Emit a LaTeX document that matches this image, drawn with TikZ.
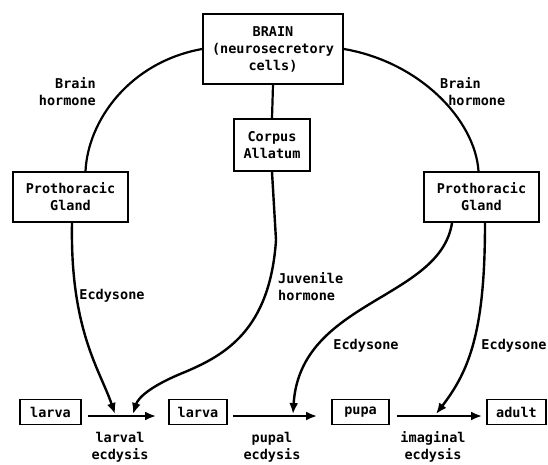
\documentclass[tikz,border=0pt]{standalone}
\usepackage{fontspec}
\setmonofont{DejaVu Sans Mono}
\usetikzlibrary{arrows.meta,positioning}
\tikzset{
  box/.style={draw,line width=1.8pt,align=center,inner sep=0pt},
  lab/.style={align=center,inner sep=0pt},
  link/.style={line width=2.2pt},
  flow/.style={line width=2.4pt,-{Latex[length=11pt,width=9pt]}},
}

\begin{document}
\begin{tikzpicture}[x=1pt,y=-1pt,font=\fontsize{13.5}{17}\selectfont\ttfamily\bfseries]
\useasboundingbox (0,0) rectangle (548,464);
\node[box,minimum width=140pt,minimum height=70pt] (brain) at (273,49) {BRAIN\\(neurosecretory\\cells)};
\node[box,minimum width=76pt,minimum height=52pt] (corpus) at (272,145) {Corpus\\Allatum};
\node[box,minimum width=115pt,minimum height=50pt] (pgl) at (70.5,197) {Prothoracic\\Gland};
\node[box,minimum width=115pt,minimum height=50pt] (pgr) at (481.5,197) {Prothoracic\\Gland};
\node[box,minimum width=61pt,minimum height=25pt] (l1) at (50.5,412) {larva};
\node[box,minimum width=58pt,minimum height=25pt] (l2) at (198,412) {larva};
\node[box,minimum width=57pt,minimum height=25pt] (pupa) at (360.5,412) {pupa};
\node[box,minimum width=59pt,minimum height=25pt] (adult) at (516.5,412) {adult};

\node[lab,align=right,anchor=east] (bhl) at (96,92) {Brain\\hormone};
\node[lab,align=left,anchor=west] (bhr) at (440,92) {Brain\\~hormone};
\node[lab] (ecl) at (112,296) {Ecdysone};
\node[lab,align=left,anchor=west] (jh) at (278,287) {Juvenile\\hormone};
\node[lab] (ecm) at (366,346) {Ecdysone};
\node[lab] (ecr) at (514,346) {Ecdysone};
\node[lab] (larval) at (120,447) {larval\\ecdysis};
\node[lab] (pupal) at (272,447) {pupal\\ecdysis};
\node[lab] (imaginal) at (433,447) {imaginal\\ecdysis};

\coordinate (t1) at (115,414);
\coordinate (t2) at (133,414);
\coordinate (t3) at (293,414);
\coordinate (t4) at (436,414);

\draw[link] (brain.west) .. controls (130,62) and (88,120) .. ([xshift=15pt]pgl.north);
\draw[link] (brain.east) .. controls (420,62) and (475,120) .. ([xshift=-3pt]pgr.north);
\draw[link] (brain.south) -- (corpus.north);

\draw[flow] ([xshift=1.5pt]pgl.south) .. controls (70,330) and (100,370) .. (t1);
\draw[flow] (corpus.south) -- (276,240) .. controls (270,330) and (225,355) .. (185,372) .. controls (150,386) and (138,398) .. (t2);
\draw[flow] ([xshift=-29.5pt]pgr.south) .. controls (440,300) and (300,300) .. (t3);
\draw[flow] ([xshift=3.5pt]pgr.south) .. controls (485,330) and (470,370) .. (t4);

\draw[flow,shorten <=6pt,shorten >=12pt] ([yshift=-4pt]l1.east) -- ([yshift=-4pt]l2.west);
\draw[flow,shorten <=5pt,shorten >=14pt] ([yshift=-4pt]l2.east) -- ([yshift=-4pt]pupa.west);
\draw[flow,shorten <=7pt,shorten >=4pt] ([yshift=-4pt]pupa.east) -- ([yshift=-4pt]adult.west);
\end{tikzpicture}
\end{document}
